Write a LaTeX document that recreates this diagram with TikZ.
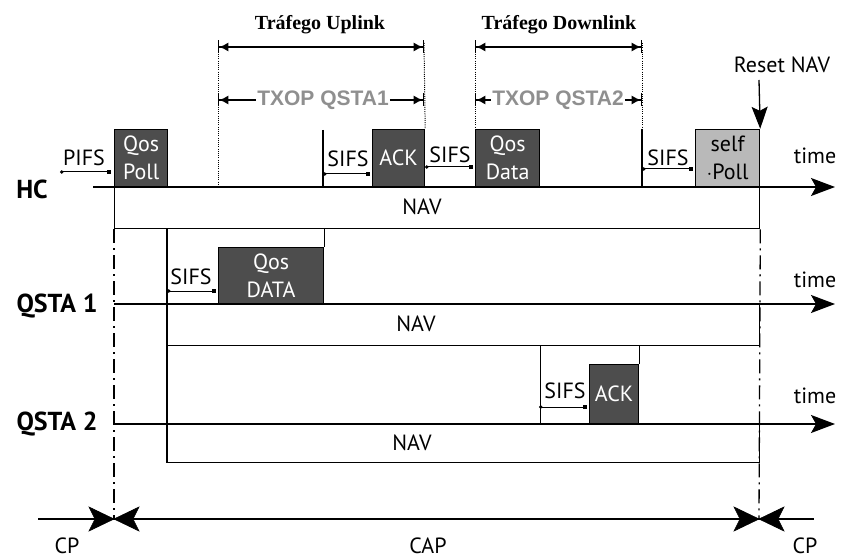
\documentclass[tikz,border=0pt]{standalone}
\usepackage{fontspec}
\setmainfont{PT Sans}
\newfontfamily\titlefont{Liberation Serif}
\newfontfamily\txopfont{Liberation Sans}
\usetikzlibrary{arrows.meta}
\definecolor{framefill}{HTML}{4D4D4D}
\definecolor{pollfill}{HTML}{B9B9B9}
\definecolor{txopgray}{HTML}{8F8F8F}
\tikzset{
  base/.style={line width=1.3pt},
  frame/.style={draw=black, fill=framefill, line width=1.2pt, text=white, inner sep=0pt,
    align=center, font=\fontsize{22}{28}\selectfont},
  selfframe/.style={frame, fill=pollfill, text=black},
  navbox/.style={draw, line width=1.3pt, inner sep=0pt},
  lbl/.style={font=\fontsize{22}{22}\selectfont, inner sep=0pt, anchor=base},
  station/.style={font=\bfseries\fontsize{26}{26}\selectfont, inner sep=0pt, anchor=base},
  timeline/.style={base, -{Stealth[length=24pt,width=18pt,inset=5pt]}},
  gap/.style={line width=1pt, {Circle[length=3.5pt]}-{Square[length=4pt,width=4pt]}},
  guide/.style={line width=1pt, dash pattern=on 1pt off 1.2pt},
  border/.style={line width=1.3pt, dash pattern=on 14pt off 5pt on 2pt off 5pt},
  span/.style={line width=1.3pt,
    {Bar[width=13pt]Latex[length=9pt,width=9pt]}-{Latex[length=9pt,width=9pt]Bar[width=13pt]}},
  halfL/.style={line width=1.3pt, {Bar[width=13pt]Latex[length=9pt,width=9pt]}-},
  halfR/.style={line width=1.3pt, -{Latex[length=9pt,width=9pt]Bar[width=13pt]}},
  txop/.style={text=txopgray, font=\txopfont\bfseries\fontsize{21}{21}\selectfont, inner sep=1pt},
  titletxt/.style={font=\titlefont\bfseries\fontsize{20}{20}\selectfont, inner sep=0pt, anchor=base},
  resetarrow/.style={base, -{Stealth[length=22pt,width=16pt,inset=4pt]}},
  bowhead/.style={fill=black, draw=black, line width=0.6pt, line join=miter},
}
\begin{document}
\begin{tikzpicture}[x=1pt,y=-1pt]
\useasboundingbox[fill=white] (0,0) rectangle (841,559);

% ---------- HC ----------
\coordinate (hcA) at (93,187);
\coordinate (hcB) at (835,187);
\node[navbox, minimum width=645pt, minimum height=41pt, anchor=north west] (hcnav) at (114,187) {};
\node[lbl, anchor=center] (nav1) at (422,207) {NAV};
\node[frame, minimum width=53pt, minimum height=57pt, anchor=south west] (qpoll) at (114,187) {Qos\\Poll};
\node[frame, minimum width=52pt, minimum height=57pt, anchor=south west] (ackhc) at (372,187) {ACK};
\node[frame, minimum width=64pt, minimum height=57pt, anchor=south west] (qdata) at (475,187) {Qos\\Data};
\node[selfframe, minimum width=64pt, minimum height=57pt, anchor=south west] (spoll) at (695,187) {self\\$\cdot$Poll};
\draw[timeline] (hcA) -- (hcB);
\node[station] (hc) at (32,199) {HC};
\node[lbl] (time1) at (815,164) {time};

% SIFS / PIFS gaps on HC
\coordinate (pifsA) at (60,172);  \coordinate (pifsB) at (111,172);
\draw[gap] (pifsA) -- (pifsB);
\node[lbl] (pifs) at (84,166) {PIFS};
\coordinate (s1A) at (323,174);   \coordinate (s1B) at (370,174);
\draw[gap] (s1A) -- (s1B);
\node[lbl] (sifs1) at (348,167) {SIFS};
\coordinate (s2A) at (425,167);   \coordinate (s2B) at (473,167);
\draw[gap] (s2A) -- (s2B);
\node[lbl] (sifs2) at (450,163) {SIFS};
\coordinate (s3A) at (642,169);   \coordinate (s3B) at (693,169);
\draw[gap] (s3A) -- (s3B);
\node[lbl] (sifs3) at (668,165) {SIFS};

% solid ticks on HC
\draw[base] (323,130) coordinate (tk1) -- (tk1 |- hcA);
\coordinate (dlR) at (642,43);
\draw[base] (dlR |- qdata.north) -- (dlR |- hcA);

% dotted guides and spans
\coordinate (ulL) at (218,43);
\coordinate (ulR) at (424,43);
\coordinate (dlL) at (475,43);
\draw[guide] (ulL) -- (ulL |- hcA);
\draw[guide] (ulR) -- (ackhc.north east);
\draw[guide] (dlL) -- (qdata.north west);
\draw[guide] (dlR) -- (dlR |- qdata.north);

\coordinate (up1) at (218,47);  \coordinate (up2) at (424,47);
\draw[span] (up1) -- (up2);
\node[titletxt] (ttlU) at (320,30) {Tráfego Uplink};
\coordinate (dn1) at (475,47);  \coordinate (dn2) at (642,47);
\draw[span] (dn1) -- (dn2);
\node[titletxt] (ttlD) at (559,30) {Tráfego Downlink};

\node[txop] (tx1) at (323,100) {TXOP QSTA1};
\coordinate (tx1a) at (218,100); \coordinate (tx1b) at (424,100);
\draw[halfL] (tx1a) -- (tx1.west);
\draw[halfR] (tx1.east) -- (tx1b);
\node[txop] (tx2) at (558,100) {TXOP QSTA2};
\coordinate (tx2a) at (475,100); \coordinate (tx2b) at (642,100);
\draw[halfL] (tx2a) -- (tx2.west);
\draw[halfR] (tx2.east) -- (tx2b);

% Reset NAV
\node[lbl] (rst) at (782,73) {Reset NAV};
\coordinate (rstA) at (759,80);
\draw[resetarrow] (rstA) -- (spoll.north east);

% ---------- QSTA 1 ----------
\coordinate (q1A) at (114,304);
\coordinate (q1B) at (835,304);
\node[navbox, minimum width=592pt, minimum height=41pt, anchor=north west] (q1nav) at (167,304) {};
\node[lbl, anchor=center] (nav2) at (416,324) {NAV};
\node[frame, minimum width=105pt, minimum height=56pt, anchor=south west] (q1data) at (218,304) {Qos\\DATA};
\draw[timeline] (q1A) -- (q1B);
\node[station] (qsta1) at (57,312) {QSTA 1};
\node[lbl] (time2) at (815,287) {time};
\coordinate (s4A) at (167,291);  \coordinate (s4B) at (216,291);
\draw[gap] (s4A) -- (s4B);
\node[lbl] (sifs4) at (191,284) {SIFS};
\draw[base] (q1data.north east) -- (q1data.north east |- hcnav.south);

% ---------- QSTA 2 ----------
\coordinate (q2A) at (114,424);
\coordinate (q2B) at (835,424);
\node[navbox, minimum width=592pt, minimum height=38pt, anchor=north west] (q2nav) at (167,424) {};
\node[lbl, anchor=center] (nav3) at (412,443) {NAV};
\node[frame, minimum width=49pt, minimum height=59pt, anchor=south west] (q2ack) at (589,424) {ACK};
\draw[timeline] (q2A) -- (q2B);
\node[station] (qsta2) at (57,430) {QSTA 2};
\node[lbl] (time3) at (815,403) {time};
\coordinate (s5A) at (539,407);  \coordinate (s5B) at (587,407);
\draw[gap] (s5A) -- (s5B);
\node[lbl] (sifs5) at (565,398) {SIFS};
\draw[base] (qdata.east |- q1nav.south) -- (qdata.east |- q2A);
\draw[base] (q2ack.north east) -- (q2ack.east |- q1nav.south);

% left edge of the stations' NAV
\draw[base] (hcnav.south -| q1nav.west) -- (q2nav.south west);

% ---------- CAP boundaries ----------
\coordinate (cpA) at (38,519);
\coordinate (bowL) at (114,519);
\coordinate (bowR) at (759,519);
\coordinate (cpB) at (814,519);
\draw[border] (hcnav.south west) -- (bowL);
\draw[border] (hcnav.south east) -- (bowR);
\draw[base] (cpA) -- (bowL) -- (bowR) -- (cpB);
% bow-tie markers where CP meets CAP
\foreach \c in {bowL, bowR} {
  \fill[bowhead] (\c) -- ++(-25,-12) -- ++(6,12) -- ++(-6,12) -- cycle;
  \fill[bowhead] (\c) -- ++(25,-12) -- ++(-6,12) -- ++(6,12) -- cycle;
}
\node[lbl] (cp1) at (67,553) {CP};
\node[lbl] (cap) at (428,553) {CAP};
\node[lbl] (cp2) at (805,553) {CP};
\end{tikzpicture}
\end{document}
